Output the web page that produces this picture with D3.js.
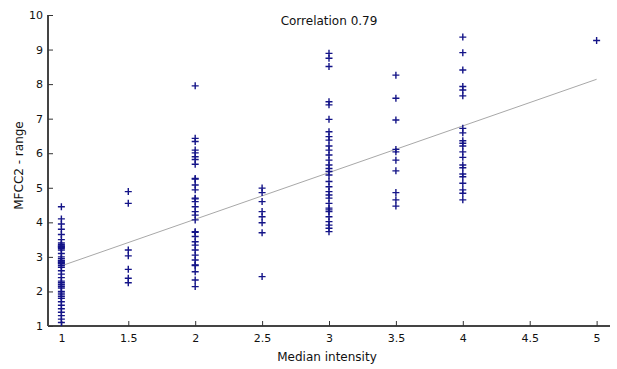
<!DOCTYPE html>
<html>
<head>
<meta charset="utf-8">
<script src="https://cdn.jsdelivr.net/npm/d3@7"></script>
<style>
  body { margin: 0; background: #fff; }
  svg { font-family: 'DejaVu Sans', sans-serif; }
</style>
</head>
<body>
<div id="chart"></div>
<script>
// values, one array per intensity level
const xTicks = [1, 1.5, 2, 2.5, 3, 3.5, 4, 4.5, 5];
const yTicks = [1, 2, 3, 4, 5, 6, 7, 8, 9, 10];

const yAt1 = [4.45, 4.1, 3.95, 3.8, 3.65, 3.5, 3.4, 3.35, 3.32, 3.3, 3.28, 3.25, 3.2, 3.1, 3.0, 2.95, 2.9, 2.88,
    2.85, 2.83, 2.8, 2.75, 2.7, 2.6, 2.5, 2.4, 2.3, 2.25, 2.2, 2.15, 2.1, 2.0, 1.95, 1.9, 1.85, 1.8, 1.7,
    1.6, 1.5, 1.4, 1.3, 1.2, 1.1];
const yAt15 = [4.89, 4.55, 3.2, 3.03, 2.64, 2.38, 2.25];
const yAt2 = [7.95, 6.43, 6.34, 6.09, 6.01, 5.9, 5.82, 5.68, 5.27, 5.25, 5.08, 4.94, 4.7, 4.68, 4.6, 4.45,
    4.31, 4.21, 4.07, 3.73, 3.71, 3.59, 3.44, 3.34, 3.2, 3.05, 2.91, 2.77, 2.75, 2.57, 2.33, 2.14];
const yAt25 = [4.99, 4.86, 4.6, 4.31, 4.16, 3.99, 3.7, 2.43];
const yAt3 = [8.89, 8.75, 8.51, 7.49, 7.4, 6.98, 6.62, 6.48, 6.38, 6.21, 6.09, 5.95, 5.8, 5.66, 5.56, 5.47,
    5.37, 5.18, 5.03, 4.89, 4.79, 4.7, 4.55, 4.41, 4.36, 4.31, 4.16, 4.02, 3.92, 3.83, 3.73];
const yAt35 = [8.26, 7.59, 6.96, 6.11, 6.04, 5.8, 5.49, 4.86, 4.65, 4.47];
const yAt4 = [9.36, 8.91, 8.41, 7.93, 7.83, 7.66, 6.72, 6.59, 6.36, 6.29, 6.21, 6.04, 5.88, 5.66, 5.58,
    5.4, 5.32, 5.13, 4.94, 4.84, 4.65];
const yAt5 = [9.26];

const fitX = [1, 5];
const fitY = [2.74, 8.14];

const groups = [
    [1, yAt1], [1.5, yAt15], [2, yAt2], [2.5, yAt25],
    [3, yAt3], [3.5, yAt35], [4, yAt4], [5, yAt5],
];
const points = groups.flatMap(([gx, ys]) => ys.map((v) => ({ x: gx, y: v })));

const W = 617, H = 369;
const margins = { top: 15, right: 7, bottom: 43, left: 48 };
const width = W - margins.left - margins.right;
const height = H - margins.top - margins.bottom;

const svg = d3.select('#chart').append('svg')
    .attr('width', W)
    .attr('height', H)
    .append('g')
    .attr('transform', `translate(${margins.left},${margins.top})`);

const x = d3.scaleLinear().domain([0.9, 5.1]).range([0, width]);
const y = d3.scaleLinear().domain([1, 10]).range([height, 0]);

// axes, matlab style: ticks point inward
const xAxis = svg.append('g')
    .attr('transform', `translate(0,${height})`)
    .call(d3.axisBottom(x).tickValues(xTicks).tickSize(-5).tickPadding(8).tickFormat(d3.format('')));
const yAxis = svg.append('g')
    .call(d3.axisLeft(y).tickValues(yTicks).tickSize(-5).tickPadding(5));

[xAxis, yAxis].forEach((a) => {
    a.select('.domain').attr('stroke', '#444').attr('stroke-width', 2);
    a.selectAll('.tick line').attr('stroke', '#333');
    a.selectAll('.tick text').style('font-size', '11px').style('fill', '#111')
        .style('font-family', "'DejaVu Sans', sans-serif");
});
yAxis.select('.domain').attr('d', `M0,0V${height}`);
xAxis.select('.domain').attr('d', `M0,0H${width}`);

// regression line
svg.append('line')
    .attr('x1', x(fitX[0])).attr('y1', y(fitY[0]))
    .attr('x2', x(fitX[1])).attr('y2', y(fitY[1]))
    .attr('stroke', '#a8a8a8')
    .attr('stroke-width', 1);

// plus markers
const s = 3.5;
svg.append('g').selectAll('path')
    .data(points)
    .enter()
    .append('path')
    .attr('d', (d) => {
        const px = x(d.x), py = y(d.y);
        return `M${px - s},${py}H${px + s}M${px},${py - s}V${py + s}`;
    })
    .attr('stroke', '#141488')
    .attr('stroke-width', 1.4)
    .attr('fill', 'none');

svg.append('text')
    .attr('x', width / 2)
    .attr('y', 10)
    .attr('text-anchor', 'middle')
    .style('font-size', '12px')
    .style('fill', '#111')
    .text('Correlation 0.79');

svg.append('text')
    .attr('x', width / 2 - 2)
    .attr('y', height + 35)
    .attr('text-anchor', 'middle')
    .style('font-size', '12px')
    .style('fill', '#111')
    .text('Median intensity');

svg.append('text')
    .attr('transform', 'rotate(-90)')
    .attr('x', -(height / 2) + 5)
    .attr('y', -25)
    .attr('text-anchor', 'middle')
    .style('font-size', '12px')
    .style('fill', '#111')
    .text('MFCC2 - range');
</script>
</body>
</html>
